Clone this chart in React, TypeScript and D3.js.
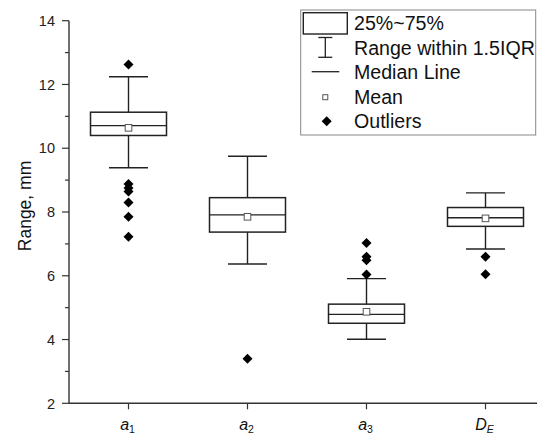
import React from "react";
import * as d3 from "d3";

const categories = ["a", "a", "a", "D"];
const subscripts = ["1", "2", "3", "E"];
const q1 = [10.4, 7.37, 4.51, 7.55];
const q3 = [11.13, 8.45, 5.11, 8.14];
const medians = [10.71, 7.91, 4.79, 7.82];
const means = [10.64, 7.85, 4.87, 7.8];
const whiskerLow = [9.39, 6.37, 4.01, 6.84];
const whiskerHigh = [12.24, 9.75, 5.91, 8.6];
const outliers = [
  [12.63, 8.88, 8.75, 8.64, 8.3, 7.85, 7.22],
  [3.4],
  [7.03, 6.6, 6.49, 6.04],
  [6.6, 6.05],
];
const yTicks = [2, 4, 6, 8, 10, 12, 14];
const yMinorTicks = [3, 5, 7, 9, 11, 13];
const legendLabels = ["25%~75%", "Range within 1.5IQR", "Median Line", "Mean", "Outliers"];

const W = 537;
const H = 436;
const FONT = "'Liberation Sans', Arial, sans-serif";
const INK = "#222";

export default function App() {
  const x = d3.scaleLinear().domain([0.5, 4.5]).range([69, 545]);
  const y = d3.scaleLinear().domain([2, 14]).range([403.3, 20.7]);
  const boxW = 76;
  const capW = 39;
  const diamond = (cx: number, cy: number, r = 5) =>
    `M${cx},${cy - r}L${cx + r},${cy}L${cx},${cy + r}L${cx - r},${cy}Z`;

  const legendRowY = [23.3, 48.3, 71.7, 96.7, 120.7];
  const symX = 325.3;

  return (
    <svg
      width={W}
      height={H}
      style={{ position: "absolute", left: 0, top: 0, background: "#fff" }}
      fontFamily={FONT}
    >
      {/* boxes */}
      {categories.map((_, i) => {
        const cx = x(i + 1);
        return (
          <g key={i}>
            <line x1={cx} x2={cx} y1={y(whiskerHigh[i])} y2={y(q3[i])} stroke={INK} strokeWidth={1.4} />
            <line x1={cx} x2={cx} y1={y(q1[i])} y2={y(whiskerLow[i])} stroke={INK} strokeWidth={1.4} />
            <line x1={cx - capW / 2} x2={cx + capW / 2} y1={y(whiskerHigh[i])} y2={y(whiskerHigh[i])} stroke={INK} strokeWidth={1.4} />
            <line x1={cx - capW / 2} x2={cx + capW / 2} y1={y(whiskerLow[i])} y2={y(whiskerLow[i])} stroke={INK} strokeWidth={1.4} />
            <rect
              x={cx - boxW / 2}
              y={y(q3[i])}
              width={boxW}
              height={y(q1[i]) - y(q3[i])}
              fill="none"
              stroke={INK}
              strokeWidth={1.5}
            />
            <line x1={cx - boxW / 2} x2={cx + boxW / 2} y1={y(medians[i])} y2={y(medians[i])} stroke={INK} strokeWidth={1.4} />
            <rect x={cx - 3.3} y={y(means[i]) - 3.3} width={6.6} height={6.6} fill="#fff" stroke="#555" strokeWidth={1} />
            {outliers[i].map((v, j) => (
              <path key={j} d={diamond(cx, y(v))} fill="#000" />
            ))}
          </g>
        );
      })}

      {/* y axis */}
      <line x1={69} x2={69} y1={y(14)} y2={y(2)} stroke="#333" strokeWidth={1.4} />
      {yTicks.map((t) => (
        <g key={t}>
          <line x1={62} x2={69} y1={y(t)} y2={y(t)} stroke="#333" strokeWidth={1.2} />
          <text x={55} y={y(t)} dy="0.36em" textAnchor="end" fontSize={14.5} fill="#222">
            {t}
          </text>
        </g>
      ))}
      {yMinorTicks.map((t) => (
        <line key={t} x1={65} x2={69} y1={y(t)} y2={y(t)} stroke="#333" strokeWidth={1.2} />
      ))}
      <text
        transform={`translate(30.5,206) rotate(-90)`}
        textAnchor="middle"
        fontSize={17.5}
        fill="#111"
      >
        Range, mm
      </text>

      {/* x axis */}
      <line x1={69} x2={W} y1={y(2)} y2={y(2)} stroke="#333" strokeWidth={1.4} />
      {categories.map((c, i) => (
        <g key={i}>
          <line x1={x(i + 1)} x2={x(i + 1)} y1={y(2)} y2={y(2) + 6} stroke="#333" strokeWidth={1.2} />
          <text x={x(i + 1) - 1} y={430} textAnchor="middle" fontSize={16} fill="#111" fontStyle="italic">
            {c}
            <tspan fontSize={10.5} dy={3} fontStyle={subscripts[i] === "E" ? "italic" : "normal"}>
              {subscripts[i]}
            </tspan>
          </text>
        </g>
      ))}

      {/* legend */}
      <rect x={300.7} y={10} width={235} height={125} fill="#fff" stroke="#888" strokeWidth={1} />
      <rect x={303.3} y={12.7} width={44} height={21.3} fill="none" stroke={INK} strokeWidth={1.4} />
      <line x1={symX} x2={symX} y1={37.5} y2={57.3} stroke={INK} strokeWidth={1.3} />
      <line x1={symX - 7} x2={symX + 7} y1={37.5} y2={37.5} stroke={INK} strokeWidth={1.3} />
      <line x1={symX - 7} x2={symX + 7} y1={57.3} y2={57.3} stroke={INK} strokeWidth={1.3} />
      <line x1={311.7} x2={339.3} y1={legendRowY[2]} y2={legendRowY[2]} stroke={INK} strokeWidth={1.3} />
      <rect x={symX - 2.5} y={legendRowY[3] - 2} width={5} height={5} fill="#fff" stroke="#555" strokeWidth={1} />
      <path d={diamond(symX + 1.4, legendRowY[4] + 0.6, 5)} fill="#000" />
      {legendLabels.map((l, i) => (
        <text key={l} x={354} y={legendRowY[i]} dy="0.35em" fontSize={19.6} fill="#111">
          {l}
        </text>
      ))}
    </svg>
  );
}
